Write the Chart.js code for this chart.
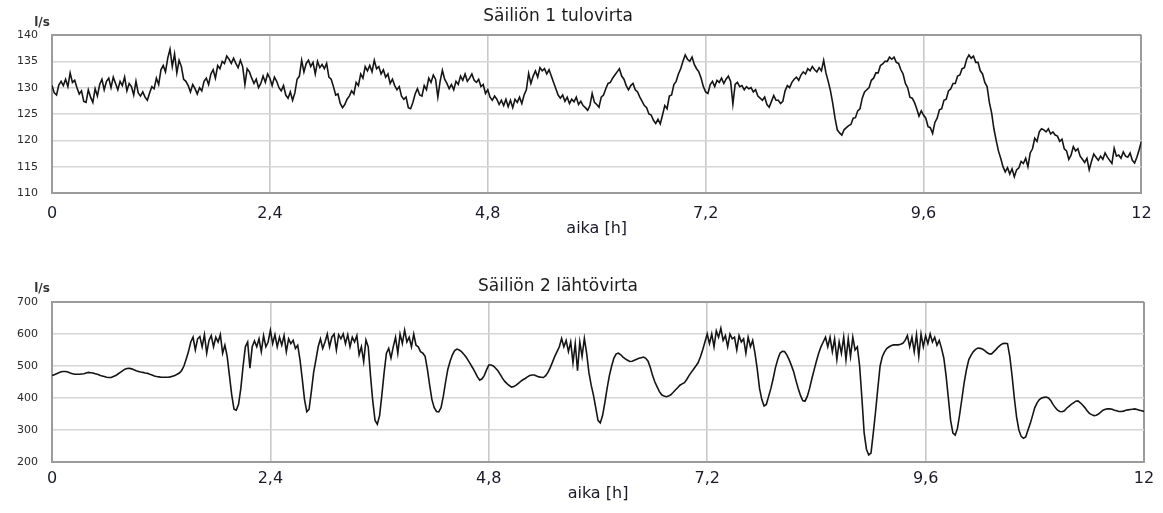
<!DOCTYPE html>
<html><head><meta charset="utf-8">
<script src="https://cdn.jsdelivr.net/npm/chart.js@4.4.1/dist/chart.umd.min.js"></script>
<style>
html,body{margin:0;padding:0;background:#fff;overflow:hidden;width:1163px;height:513px;position:relative}
.c{position:absolute;left:-28px}
canvas{display:block}
</style></head><body>
<div class="c" style="top:0;width:1191px;height:250px"><canvas id="chartTop" width="1191" height="250"></canvas></div>
<div class="c" style="top:262px;width:1191px;height:251px"><canvas id="chartBottom" width="1191" height="251"></canvas></div>
<script>
// sampling step of the series, hours
const STEP_H = 0.025;

// Säiliön 1 tulovirta, l/s (read every 0.025 h, 0..12 h)
const inflowValues = [
130.4,129.0,128.6,130.5,131.2,130.4,131.6,130.2,132.8,131.0,
131.4,130.0,128.8,129.4,127.4,127.2,129.6,128.2,127.2,129.8,
128.4,130.6,131.6,129.6,131.2,131.8,130.0,132.0,130.8,129.6,
131.2,130.4,132.0,129.4,130.8,130.2,128.6,131.2,129.0,128.4,
129.2,128.2,127.6,129.0,130.2,129.8,131.8,130.6,133.4,134.2,
133.0,135.6,137.3,134.0,136.4,132.8,135.2,134.0,131.6,131.2,
130.4,129.2,130.6,129.8,128.8,130.0,129.4,131.2,131.8,130.6,
132.6,133.4,131.8,134.2,133.6,135.0,134.6,136.0,135.4,134.6,
135.6,134.6,133.8,135.2,134.0,130.6,133.6,133.0,131.8,130.8,
131.6,130.0,130.8,132.2,131.0,132.6,131.8,130.4,132.0,131.2,
130.0,129.4,130.4,128.6,128.0,129.2,127.6,129.0,131.6,132.2,
135.2,133.0,134.6,135.2,134.0,134.8,132.6,135.0,133.8,134.4,
133.6,134.6,132.0,131.6,130.2,128.6,128.8,127.0,126.2,126.8,
127.8,128.4,129.4,128.8,131.0,130.4,132.6,131.8,134.0,133.2,
134.2,133.0,135.2,133.6,134.0,132.6,133.4,132.0,132.6,130.8,
131.6,130.4,129.6,130.2,128.4,127.8,128.2,126.2,126.0,127.2,
128.8,129.8,128.6,128.4,130.4,129.6,131.8,131.0,132.4,131.6,
128.2,131.2,133.3,131.6,130.8,129.8,130.6,129.6,131.2,130.6,
132.2,131.4,132.6,131.2,131.8,132.6,131.4,131.0,131.6,130.2,
130.6,128.9,129.6,128.2,127.6,128.4,127.8,126.8,127.6,126.6,
127.8,126.4,127.6,126.2,127.8,127.2,128.2,127.0,128.6,129.6,
132.7,130.8,132.2,133.2,132.0,133.8,133.2,133.6,132.6,133.4,
132.2,131.0,129.8,128.6,128.0,128.6,127.4,128.2,127.0,127.8,
127.3,128.2,126.8,127.4,126.6,126.2,125.7,126.6,128.9,127.2,
126.8,126.3,128.2,128.6,129.8,130.8,131.0,131.8,132.4,133.0,
133.6,132.2,131.6,130.4,129.6,130.4,130.8,129.6,129.2,128.2,
127.4,126.6,126.2,125.0,124.8,123.8,123.2,124.0,123.1,124.8,
126.6,126.0,128.4,128.6,130.6,131.2,132.6,133.6,135.0,136.2,
135.4,135.0,135.8,134.4,133.6,133.0,131.8,130.2,129.2,128.9,
130.6,131.2,130.2,131.4,131.0,131.8,130.8,131.6,132.2,131.2,
126.9,130.6,131.0,130.2,130.4,129.6,130.2,129.8,130.0,129.2,
129.6,128.4,128.0,127.6,128.2,126.8,126.3,127.4,128.5,127.6,
127.6,127.0,127.4,129.4,130.4,130.0,131.0,131.6,132.0,131.4,
132.4,133.0,132.6,133.6,133.2,134.0,133.4,133.0,133.8,133.2,
135.2,132.8,131.2,129.4,127.0,124.2,122.0,121.4,121.0,122.0,
122.4,122.8,123.0,124.2,124.3,125.6,126.0,128.0,129.2,129.6,
130.0,131.4,131.8,132.8,132.8,134.2,134.5,135.0,135.0,135.8,
135.4,135.8,134.8,134.6,133.4,132.6,130.8,130.0,128.2,128.0,
127.2,126.0,124.6,125.6,124.8,124.2,122.6,122.4,121.3,123.4,
124.2,125.8,126.0,127.6,127.8,129.4,129.8,130.8,130.8,132.2,
132.4,133.6,133.8,135.4,136.2,135.6,136.0,134.8,134.8,133.2,
132.6,131.0,130.2,127.2,125.2,122.2,120.0,118.0,116.6,115.0,
114.0,114.8,113.6,114.6,113.1,114.4,114.8,116.0,115.6,116.6,
115.0,117.6,118.4,120.4,119.8,121.6,122.2,122.0,121.6,122.2,
121.2,121.6,121.0,120.8,119.8,120.2,118.4,118.0,116.4,117.2,
118.8,118.0,118.4,117.0,116.4,115.8,116.6,114.4,116.0,117.4,
116.8,116.2,117.0,116.4,117.6,116.8,116.2,115.6,118.5,117.0,
117.2,116.6,117.8,117.0,116.8,117.6,116.2,115.7,116.8,118.2,
119.8];

// Säiliön 2 lähtövirta, l/s (read every 0.025 h, 0..12 h)
const outflowValues = [
470,473,476,479,482,483,483,481,478,476,
474,474,474,475,476,478,480,479,478,476,
474,471,469,467,465,464,464,467,470,475,
480,485,490,492,493,491,488,485,483,481,
480,478,477,474,472,469,467,466,465,465,
465,465,466,468,470,474,478,486,500,522,
545,575,590,550,585,592,560,598,540,580,
595,560,590,575,598,540,565,530,470,410,
365,362,380,430,500,560,575,493,560,578,
560,585,545,595,560,575,612,570,598,560,
590,565,595,545,585,570,580,555,565,520,
460,395,357,365,420,480,519,560,585,555,
575,600,560,590,600,550,598,585,600,570,
598,560,590,575,595,535,560,514,581,560,
470,390,330,318,345,410,480,540,555,525,
560,590,540,600,570,612,575,590,560,600,
565,560,545,540,530,490,440,395,370,358,
357,370,405,450,490,515,535,548,553,550,
545,537,528,517,505,493,480,466,456,460,
470,488,503,503,500,493,485,474,462,452,
445,439,434,436,440,446,452,457,461,466,
470,472,472,469,466,465,464,470,480,495,
512,530,545,560,586,560,580,545,575,510,
570,485,575,530,586,540,480,440,409,370,
330,322,345,385,430,470,500,525,538,540,
535,528,522,518,514,515,518,521,524,526,
528,524,515,495,470,450,435,420,410,406,
404,406,410,417,425,432,440,444,448,458,
470,480,490,500,510,528,550,575,600,570,
600,560,610,590,618,580,595,560,600,585,
590,550,595,575,585,540,590,560,580,540,
490,430,395,375,380,405,430,461,495,520,
540,546,545,535,520,502,482,455,430,408,
392,390,405,430,460,488,515,540,560,575,
590,560,590,545,585,520,575,540,590,520,
585,530,590,550,560,500,400,290,240,222,
228,290,357,430,500,530,545,555,560,564,
566,566,566,568,571,580,595,560,590,545,
598,530,600,560,595,570,600,575,590,565,
580,555,525,470,400,330,290,284,305,350,
400,450,490,520,534,545,552,556,555,553,
548,542,538,538,545,552,560,566,570,571,
570,530,470,400,340,300,280,274,278,300,
320,345,370,385,395,400,402,403,400,392,
380,370,362,358,357,360,368,374,380,385,
390,391,385,378,370,360,352,348,345,346,
350,356,362,365,366,366,365,362,360,358,
358,359,362,363,364,365,366,364,362,360,
358];

const xTickValues = [0, 2.4, 4.8, 7.2, 9.6, 12];
const xTickLabels = ['0', '2,4', '4,8', '7,2', '9,6', '12'];
const inflowYTicks = [110, 115, 120, 125, 130, 135, 140];
const outflowYTicks = [200, 300, 400, 500, 600, 700];
const titleInflow = 'Säiliön 1 tulovirta';
const titleOutflow = 'Säiliön 2 lähtövirta';
const xAxisTitle = 'aika [h]';
const unitLabel = 'l/s';

[inflowValues, outflowValues].forEach((a, k) => {
  if (a.length !== 481) throw new Error('series ' + k + ' has ' + a.length + ' values');
});

const FONT = '"DejaVu Sans", Verdana, sans-serif';
const BORDER = '#9b9b9b';
const GRID = '#d6d6d6';
const VGRID = '#c9c9c9';

const unitPlugin = {
  id: 'unitLabel',
  afterDraw(chart, args, opts) {
    const {ctx, chartArea} = chart;
    ctx.save();
    ctx.font = 'bold 12px ' + FONT;
    ctx.fillStyle = '#333';
    ctx.textAlign = 'center';
    ctx.textBaseline = 'middle';
    ctx.fillText(opts.text, chartArea.left - 10, chartArea.top - opts.dy);
    ctx.restore();
  }
};

function makeChart(id, values, yTicks, title, cfg) {
  const data = values.map((v, i) => ({x: +(i * STEP_H).toFixed(3), y: v}));
  const yMin = yTicks[0], yMax = yTicks[yTicks.length - 1];
  return new Chart(document.getElementById(id), {
    type: 'line',
    data: {datasets: [{
      data,
      borderColor: '#151515',
      borderWidth: 1.6,
      pointRadius: 0,
      tension: 0,
      fill: false
    }]},
    options: {
      responsive: false,
      animation: false,
      events: [],
      layout: {padding: {left: 0, right: 19, top: 0, bottom: cfg.padBottom}},
      plugins: {
        legend: {display: false},
        tooltip: {enabled: false},
        title: {
          display: true, text: title, color: '#1d1d1d',
          font: {family: FONT, size: 17, weight: 'normal', lineHeight: 1.2},
          padding: {top: cfg.titleTop, bottom: cfg.titleBottom}
        },
        unitLabel: {text: unitLabel, dy: cfg.unitDy}
      },
      scales: {
        x: {
          type: 'linear', min: 0, max: 12,
          afterBuildTicks: s => { s.ticks = xTickValues.map(v => ({value: v})); },
          afterFit: s => { s.height = cfg.xHeight; },
          ticks: {
            autoSkip: false, maxRotation: 0, padding: cfg.xTickPad,
            color: '#1a1a28', font: {family: FONT, size: 16},
            callback: (v, i) => xTickLabels[i]
          },
          grid: {
            drawTicks: false,
            color: c => (c.tick && (c.tick.value === 0 || c.tick.value === 12)) ? BORDER : VGRID,
            lineWidth: c => (c.tick && (c.tick.value === 0 || c.tick.value === 12)) ? 2 : 1.6
          },
          border: {display: true, color: BORDER, width: 2},
          title: {
            display: true, text: xAxisTitle, color: '#1a1a28',
            font: {family: FONT, size: 16, lineHeight: 1.2}, padding: 0
          }
        },
        y: {
          min: yMin, max: yMax,
          afterBuildTicks: s => { s.ticks = yTicks.map(v => ({value: v})); },
          afterFit: s => { s.width = 80; },
          ticks: {color: '#2a2a2a', font: {family: FONT, size: 11}, padding: 14},
          grid: {
            drawTicks: false,
            color: c => (c.tick && (c.tick.value === yMin || c.tick.value === yMax)) ? BORDER : GRID,
            lineWidth: c => (c.tick && (c.tick.value === yMin || c.tick.value === yMax)) ? 2 : 1.6
          },
          border: {display: true, color: BORDER, width: 2}
        }
      }
    },
    plugins: [unitPlugin]
  });
}

makeChart('chartTop', inflowValues, inflowYTicks, titleInflow,
  {padBottom: 11.4, titleTop: 6, titleBottom: 8.6, xHeight: 45.6, xTickPad: 11.4, unitDy: 12});
makeChart('chartBottom', outflowValues, outflowYTicks, titleOutflow,
  {padBottom: 9.4, titleTop: 14.8, titleBottom: 4.8, xHeight: 41.6, xTickPad: 7.4, unitDy: 13});
</script>
</body></html>
